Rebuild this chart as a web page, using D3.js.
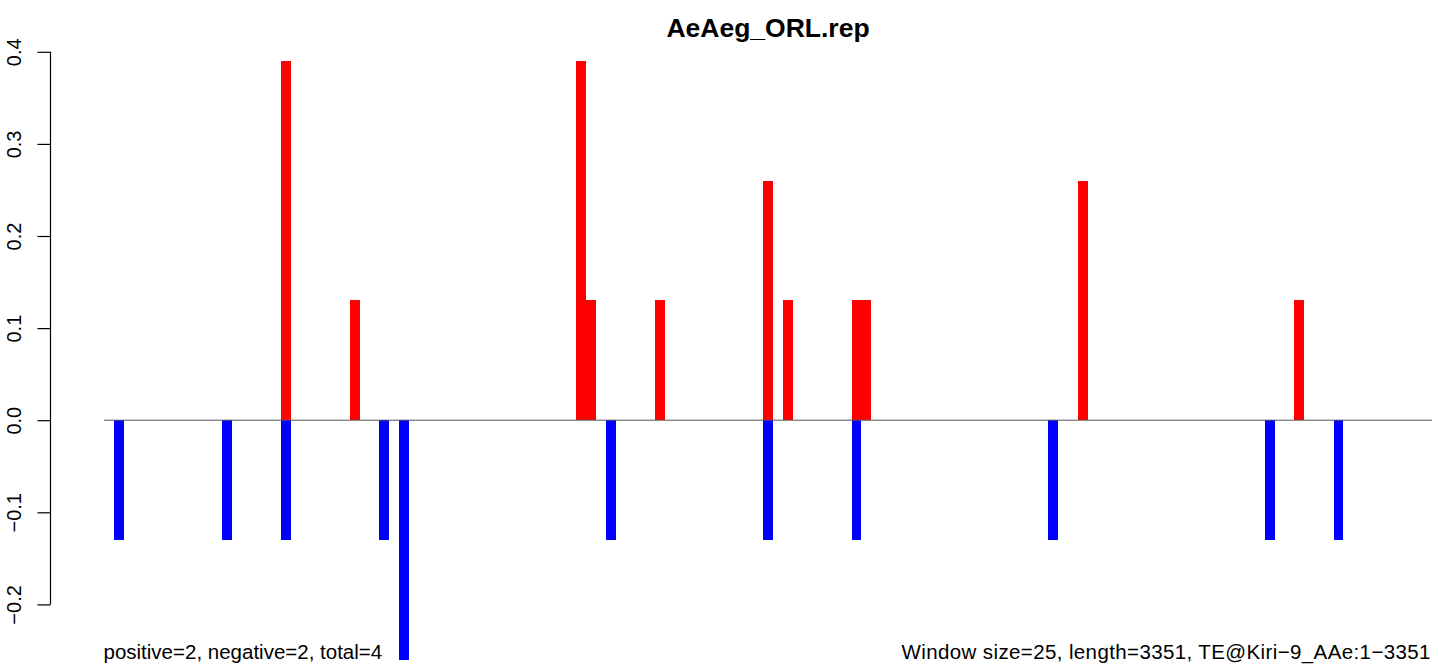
<!DOCTYPE html>
<html>
<head>
<meta charset="utf-8">
<script src="https://cdn.jsdelivr.net/npm/d3@7"></script>
<style>
html,body{margin:0;padding:0;background:#fff;}
svg{display:block;}
text{font-family:"Liberation Sans", Arial, Helvetica, sans-serif;fill:#000;}
rect{shape-rendering:crispEdges;}
</style>
</head>
<body>
<svg id="chart" width="1439" height="666"></svg>
<script>
// window start positions (bp) and values
const windowSize = 25;
const seqLength = 3351;
const positiveStarts = [450, 625, 1200, 1225, 1400, 1675, 1725, 1900, 1925, 2475, 3025];
const positiveValues = [0.39, 0.13, 0.39, 0.13, 0.13, 0.26, 0.13, 0.13, 0.13, 0.26, 0.13];
const negativeStarts = [25, 300, 450, 700, 750, 1275, 1675, 1900, 2400, 2950, 3125];
const negativeValues = [-0.13, -0.13, -0.13, -0.13, -0.26, -0.13, -0.13, -0.13, -0.13, -0.13, -0.13];
const yTicks = [-0.2, -0.1, 0.0, 0.1, 0.2, 0.3, 0.4];
const titleText = "AeAeg_ORL.rep";
const leftNote = "positive=2, negative=2, total=4";
const rightNote = "Window size=25, length=3351, TE@Kiri\u22129_AAe:1\u22123351";

const svg = d3.select("#chart");
const nBins = Math.ceil(seqLength / windowSize); // 135
const x = d3.scaleLinear().domain([0, nBins * windowSize]).range([104, 1432]);
const y = d3.scaleLinear().domain([-0.2, 0.4]).range([604.4, 51.8]);

const pos = positiveStarts.map((s, i) => ({s, v: positiveValues[i]}));
const neg = negativeStarts.map((s, i) => ({s, v: negativeValues[i]}));

svg.append("g").selectAll("rect").data(pos).join("rect")
  .attr("x", d => x(d.s))
  .attr("width", d => x(d.s + windowSize) - x(d.s))
  .attr("y", d => y(d.v))
  .attr("height", d => y(0) - y(d.v))
  .attr("fill", "#ff0000");

svg.append("g").selectAll("rect").data(neg).join("rect")
  .attr("x", d => x(d.s))
  .attr("width", d => x(d.s + windowSize) - x(d.s))
  .attr("y", y(0))
  .attr("height", d => y(d.v) - y(0))
  .attr("fill", "#0000ff");

// zero line
svg.append("line")
  .attr("x1", x(0)).attr("x2", x(nBins * windowSize))
  .attr("y1", y(0)).attr("y2", y(0))
  .attr("stroke", "#555").attr("stroke-width", 1);

// y axis
const axis = d3.axisLeft(y).tickValues(yTicks).tickSize(13).tickPadding(16)
  .tickFormat(d3.format(".1f"));
const gA = svg.append("g").attr("transform", "translate(50.5,0)").call(axis);
gA.selectAll(".domain").attr("stroke", "#000").attr("stroke-width", 1.2)
  .attr("d", `M0,${y(0.4)}V${y(-0.2)}`);
gA.selectAll(".tick line").attr("stroke", "#000").attr("stroke-width", 1.2);
gA.selectAll(".tick text")
  .attr("font-size", 20)
  .attr("font-family", "Liberation Sans, Arial, sans-serif")
  .attr("text-anchor", "middle")
  .attr("dy", null)
  .attr("x", null)
  .attr("transform", "translate(-29.5,0) rotate(-90)")
  .text(d => d3.format(".1f")(d).replace("-", "\u2212"));

svg.append("text").attr("x", 768).attr("y", 37)
  .attr("text-anchor", "middle").attr("font-weight", "bold").attr("font-size", 26.5)
  .text(titleText);

svg.append("text").attr("x", 103.5).attr("y", 659)
  .attr("font-size", 20.5).text(leftNote);
svg.append("text").attr("x", 901.5).attr("y", 659)
  .attr("font-size", 20.5)
  .attr("textLength", 529).attr("lengthAdjust", "spacing")
  .text(rightNote);
</script>
</body>
</html>
